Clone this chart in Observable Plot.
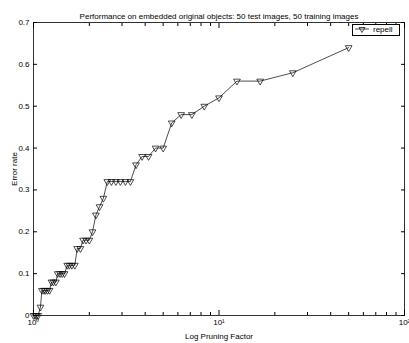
<!DOCTYPE html>
<html>
<head>
<meta charset="utf-8">
<script src="https://cdn.jsdelivr.net/npm/d3@7"></script>
<script src="https://cdn.jsdelivr.net/npm/@observablehq/plot@0.6"></script>
<style>
  html, body { margin: 0; padding: 0; background: #fff; }
  #wrap { position: relative; width: 409px; height: 343px; font-family: "Liberation Sans", Arial, sans-serif; }
  #legend { position: absolute; left: 352px; top: 24px; width: 46px; height: 10px; border: 1px solid #000; background: #fff; font-size: 8px; line-height: 10px; display: flex; align-items: center; }
  #legend svg { margin-left: 2px; margin-right: 4px; }
</style>
</head>
<body>
<div id="wrap"></div>
<script>
const chartTitle = "Performance on embedded original objects: 50 test images, 50 training images";
const seriesName = "repell";
const pruningFactor = [50, 25, 16.67, 12.5, 10, 8.33, 7.14, 6.25, 5.56, 5, 4.55, 4.17, 3.85, 3.57, 3.33, 3.13, 2.94, 2.78, 2.63, 2.5, 2.38, 2.27, 2.17, 2.08, 2, 1.92, 1.85, 1.79, 1.72, 1.67, 1.61, 1.56, 1.52, 1.47, 1.43, 1.39, 1.35, 1.32, 1.28, 1.25, 1.22, 1.19, 1.16, 1.14, 1.11, 1.09, 1.06, 1.04, 1.02, 1];
const errorRate = [0.64, 0.58, 0.56, 0.56, 0.52, 0.50, 0.48, 0.48, 0.46, 0.40, 0.40, 0.38, 0.38, 0.36, 0.32, 0.32, 0.32, 0.32, 0.32, 0.32, 0.28, 0.26, 0.24, 0.20, 0.18, 0.18, 0.18, 0.16, 0.16, 0.12, 0.12, 0.12, 0.12, 0.10, 0.10, 0.10, 0.10, 0.08, 0.08, 0.08, 0.06, 0.06, 0.06, 0.06, 0.06, 0.02, 0, 0, 0, 0];
const yTicks = [0, 0.1, 0.2, 0.3, 0.4, 0.5, 0.6, 0.7];
const yTickLabels = ["0", "0.1", "0.2", "0.3", "0.4", "0.5", "0.6", "0.7"];
const xMajorTicks = [1, 10, 100];
const xTickLabels = ["10\u2070", "10\u00B9", "10\u00B2"];
const xMinorTicks = [2, 3, 4, 5, 6, 7, 8, 9, 20, 30, 40, 50, 60, 70, 80, 90];

const data = pruningFactor.map((f, i) => ({factor: f, error: errorRate[i]}));

const chart = Plot.plot({
  width: 409,
  height: 343,
  marginLeft: 33,
  marginRight: 5,
  marginTop: 22,
  marginBottom: 28,
  style: {fontFamily: "Liberation Sans, Arial, sans-serif", fontSize: "8px", background: "#fff", color: "#000"},
  x: {type: "log", domain: [1, 100]},
  y: {domain: [0, 0.7]},
  marks: [
    Plot.frame({stroke: "#000", strokeWidth: 0.8}),
    Plot.axisY({ticks: yTicks, tickSize: 0, tickPadding: 4, tickFormat: (d) => yTickLabels[yTicks.indexOf(d)], label: "Error rate", labelAnchor: "center", labelOffset: 22, labelArrow: "none"}),
    Plot.axisY({ticks: yTicks, tickSize: -4, text: null, label: null}),
    Plot.axisY({anchor: "right", ticks: yTicks, tickSize: -4, text: null, label: null}),
    Plot.axisX({ticks: xMajorTicks, tickSize: -5, tickPadding: 9, tickFormat: (d) => xTickLabels[xMajorTicks.indexOf(d)], label: "Log Pruning Factor", labelAnchor: "center", labelOffset: 23, labelArrow: "none"}),
    Plot.axisX({ticks: xMinorTicks, tickSize: -3, text: null, label: null}),
    Plot.axisX({anchor: "top", ticks: xMajorTicks, tickSize: -5, text: null, label: null}),
    Plot.axisX({anchor: "top", ticks: xMinorTicks, tickSize: -3, text: null, label: null}),
    Plot.text([chartTitle], {frameAnchor: "top", dy: -9, fontSize: 8}),
    Plot.line(data, {x: "factor", y: "error", stroke: "#000", strokeWidth: 0.7}),
    Plot.dot(data, {x: "factor", y: "error", symbol: "triangle", rotate: 180, r: 2.5, stroke: "#000", strokeWidth: 0.7, fill: "none"})
  ]
});

const wrap = document.getElementById("wrap");
wrap.appendChild(chart);
const legend = document.createElement("div");
legend.id = "legend";
legend.innerHTML = '<svg width="14" height="8" viewBox="0 0 14 8"><line x1="0" y1="3" x2="14" y2="3" stroke="#000" stroke-width="0.7"/><path d="M4,1.5 L10,1.5 L7,6.5 Z" fill="none" stroke="#000" stroke-width="0.7"/></svg><span></span>';
legend.querySelector("span").textContent = seriesName;
wrap.appendChild(legend);
</script>
</body>
</html>
